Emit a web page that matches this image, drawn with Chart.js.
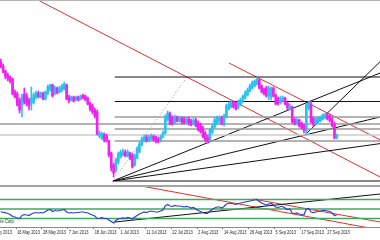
<!DOCTYPE html>
<html>
<head>
<meta charset="utf-8">
<script src="https://cdn.jsdelivr.net/npm/chart.js@4.4.0/dist/chart.umd.min.js"></script>
<style>
  html, body { margin: 0; padding: 0; background: #fff; }
  #wrap { width: 380px; height: 240px; overflow: hidden; border-top: 1px solid #b4b4b4; box-sizing: border-box; }
  canvas { display: block; }
  #sep { height: 2px; background: #a4a4a4; }
</style>
</head>
<body>
<div id="wrap">
  <canvas id="price" width="380" height="184"></canvas>
  <div id="sep"></div>
  <canvas id="rsi" width="380" height="53"></canvas>
</div>
<script>
// daily bars (price in chart units)
const open = [124,120,115,111,109,107,94,92,86,81, 92,90,86,83,84,89,93,89,93,87,
  93,97,101,93,98,94,96,97,101,89, 86,89,86,89,87,91,90,88,83,80,
  76,74,50,48,52,50,45,33,21,16, 24,29,31,34,30,33,31,21,28,34,
  41,45,49,45,47,50,49,47,45,49, 53,66,72,68,63,69,65,68,67,63,
  67,65,62,66,63,61,58,53,49,46, 54,59,62,65,68,61,69,77,79,84,
  82,78,81,85,88,91,95,98,100,102, 106,100,97,98,90,89,98,91,88,83,
  85,88,83,77,79,67,62,66,63,61, 55,78,82,68,62,64,65,67,68,71,
  70,67,62,49];
const high = [127,122,116,113,110,108,96,94,88,92, 98,93,88,99,93,95,95,94,94,95,
  101,102,102,100,99,100,102,104,102,91, 90,90,90,90,91,92,91,89,84,82,
  78,76,55,54,53,52,46,34,23,28, 34,36,37,36,36,34,33,32,39,44,
  49,51,51,51,52,51,50,49,51,55, 71,75,74,70,71,70,70,69,69,69,
  69,67,68,68,65,63,60,55,51,58, 62,68,70,70,70,72,82,84,86,85,
  84,86,88,91,95,98,102,105,106,109, 107,101,98,100,100,99,99,92,89,90,
  90,89,84,82,80,68,68,67,64,62, 82,85,85,69,68,69,70,72,73,73,
  72,69,64,52];
const low = [118,113,107,105,103,91,88,80,73,69, 82,80,76,76,82,87,88,88,86,86,
  91,95,89,91,92,93,94,96,86,83, 85,84,85,85,86,87,85,81,75,72,
  68,51,48,46,44,44,29,15,9,14, 22,28,30,29,29,26,18,20,27,33,
  40,44,44,44,46,45,43,43,44,48, 52,65,61,61,62,64,64,62,62,62,
  61,60,61,59,55,53,48,44,43,45, 52,58,61,63,61,60,68,76,78,78,
  76,77,80,83,87,90,94,97,99,101, 97,93,91,89,86,86,89,81,81,82,
  84,81,76,76,63,61,61,59,57,53, 51,76,63,60,61,63,64,66,67,66,
  64,59,47,47];
const close = [119,114,109,107,105,92,89,81,76,89, 84,82,80,88,91,93,89,93,87,94,
  99,101,90,98,93,98,100,102,87,85, 89,85,89,86,90,88,86,82,77,74,
  70,52,53,52,46,45,31,18,13,26, 32,34,35,30,34,28,19,30,37,42,
  47,49,45,49,50,46,45,44,49,53, 69,73,62,62,69,65,68,64,63,67,
  63,61,66,60,56,54,49,46,45,56, 60,66,68,68,62,70,80,82,84,79,
  77,84,86,90,93,96,100,103,105,107, 98,94,92,90,98,98,90,82,82,88,
  88,82,78,80,64,62,66,60,58,56, 81,83,64,61,67,68,69,71,71,67,
  65,60,48,51];

const rsi = [44.1,43.1,42.0,40.5,38.4,34.2,33.2,31.1,30.0,36.3,
  38.4,37.4,36.3,39.5,41.6,42.6,41.6,42.6,41.6,44.7,
  47.9,48.9,44.7,46.8,45.8,46.8,47.9,48.9,43.7,41.6,
  42.6,41.6,42.6,42.6,43.7,43.7,42.6,41.6,39.5,37.4,
  35.3,30.0,30.0,32.1,30.0,30.0,26.8,23.7,20.5,25.8,
  28.9,30.0,31.1,30.0,32.1,31.1,28.9,33.2,36.3,39.5,
  41.6,43.7,42.6,44.7,45.8,44.7,43.7,43.7,45.8,47.9,
  56.3,59.5,56.3,55.3,57.4,56.3,56.3,55.3,54.2,55.3,
  54.2,52.1,53.2,50.0,46.8,44.7,42.6,40.5,40.5,45.8,
  48.9,52.1,54.2,54.2,52.1,55.3,60.5,61.6,62.6,60.5,
  59.5,61.6,62.6,63.7,64.7,65.8,66.8,67.9,68.9,70.0,
  65.8,62.6,60.5,58.4,60.5,61.6,58.4,54.2,53.2,55.3,
  55.3,52.1,48.9,50.0,41.6,40.5,41.6,39.5,38.4,37.4,
  50.0,51.1,43.7,42.6,43.7,44.7,45.8,46.8,46.8,45.8,
  44.7,41.6,36.3,37.4];

const dateLabels = ["6 May 2013","16 May 2013","28 May 2013","7 Jun 2013","18 Jun 2013","1 Jul 2013",
  "11 Jul 2013","22 Jul 2013","2 Aug 2013","14 Aug 2013","26 Aug 2013","5 Sep 2013","17 Sep 2013","27 Sep 2013"];
const dateTickIdx = [-4.5,6.5,17.5,28.5,39.5,50.5,61.5,72.5,83.5,94.5,105.5,116.5,127.5,138.5];

// drawn objects: [bar1, price1, bar2, price2]
const fibStart = 48.5, chartEnd = 161.4;
const fibBlack = [109, 84.5, 5];
const fibGray = [69, 57, 45];
const flatLines = [62, 51];
const fanLines = [[47.7,5,161.4,113],[47.7,5,161.4,69],[47.7,5,161.4,42.4]];
const fibDiagonal = [47.7,5,79.2,109];
const redChannel = [[14,188.2,162,8.3],[97.1,123,162,45.5]];
const blackTrend = [[129.4,51,162,125.7]];

const rsiLevels = [70, 50, 30];
const rsiBlack = [[48.6,22.6,162,81.9]];
const rsiRed = [[57.96,100.1,162,5.3],[107.3,71,162,22.1]];

const X_MIN = -0.34, X_MAX = 161.36;
const BULL = '#2cc0ee', BEAR = '#ee22ee';

function seg(s) { return [{x: s[0], y: s[1]}, {x: s[2], y: s[3]}]; }
function lineDs(pts, color, width, dash) {
  return { type: 'line', data: pts, borderColor: color, borderWidth: width,
    borderDash: dash || [], pointRadius: 0, fill: false, tension: 0, order: 1 };
}

const idx = close.map((c, i) => i);
const candleColor = idx.map(i => close[i] >= open[i] ? BULL : BEAR);

const priceSets = [
  { type: 'bar', data: idx.map(i => ({x: i, y: [low[i], high[i]]})), backgroundColor: candleColor,
    barThickness: 1, grouped: false, order: 0 },
  { type: 'bar', data: idx.map(i => ({x: i, y: [open[i], close[i]]})), backgroundColor: candleColor,
    barThickness: 2, grouped: false, order: 0 }
];
flatLines.forEach((v, k) => priceSets.push(lineDs(seg([X_MIN - 1, v, chartEnd, v]), k ? '#cdcdcd' : '#9a9a9a', 1.5)));
fibGray.forEach(v => priceSets.push(lineDs(seg([fibStart, v, chartEnd, v]), '#9a9a9a', 1.5)));
fibBlack.forEach(v => priceSets.push(lineDs(seg([fibStart, v, chartEnd, v]), '#111', 1)));
fanLines.forEach(s => priceSets.push(lineDs(seg(s), '#111', 1)));
priceSets.push(lineDs(seg(fibDiagonal), '#999', 1, [1, 2]));
redChannel.forEach(s => priceSets.push(lineDs(seg(s), '#e2302e', 1)));
blackTrend.forEach(s => priceSets.push(lineDs(seg(s), '#111', 1)));

new Chart(document.getElementById('price'), {
  type: 'bar',
  data: { datasets: priceSets },
  options: {
    responsive: false, animation: false, events: [], devicePixelRatio: 1,
    layout: { padding: 0 },
    plugins: { legend: { display: false }, tooltip: { enabled: false } },
    scales: {
      x: { type: 'linear', min: X_MIN, max: X_MAX, offset: false, display: false },
      y: { type: 'linear', min: 1, max: 185, display: false }
    }
  }
});

const rsiSets = [
  lineDs(idx.map(i => ({x: i, y: rsi[i]})), '#2b3fd6', 1.2)
];
rsiSets[0].order = 0;
rsiLevels.forEach(v => rsiSets.push(lineDs(seg([X_MIN - 1, v, chartEnd, v]), '#3daa5c', 1.4)));
rsiBlack.forEach(s => rsiSets.push(lineDs(seg(s), '#111', 1)));
rsiRed.forEach(s => rsiSets.push(lineDs(seg(s), '#e2302e', 1)));

const bottomText = {
  id: 'bottomText',
  afterDraw(chart) {
    const ctx = chart.ctx, sc = chart.scales.x;
    ctx.save();
    ctx.fillStyle = '#222';
    ctx.font = '5.5px "Liberation Sans", Arial, sans-serif';
    ctx.textBaseline = 'alphabetic';
    ctx.textAlign = 'left';
    dateLabels.forEach((t, k) => {
      ctx.save();
      ctx.translate(sc.getPixelForValue(dateTickIdx[k]) + 1, chart.height - 6);
      ctx.scale(0.72, 1);
      ctx.fillText(t, 0, 0);
      ctx.restore();
    });
    ctx.textAlign = 'right';
    ctx.translate(15, chart.chartArea.bottom - 4);
    ctx.scale(0.75, 1);
    ctx.fillText('\u00a9 2001-2013 MetaQuotes Software Corp.', 0, 0);
    ctx.restore();
  }
};

new Chart(document.getElementById('rsi'), {
  type: 'line',
  data: { datasets: rsiSets },
  plugins: [bottomText],
  options: {
    responsive: false, animation: false, events: [], devicePixelRatio: 1,
    layout: { padding: 0 },
    plugins: { legend: { display: false }, tooltip: { enabled: false } },
    scales: {
      x: {
        type: 'linear', min: X_MIN, max: X_MAX, offset: false, position: 'bottom',
        ticks: { display: false },
        grid: { drawOnChartArea: false, drawTicks: true, tickLength: 2, color: '#777' },
        border: { display: true, color: '#8a8a8a' },
        afterBuildTicks: s => { s.ticks = dateTickIdx.map(v => ({value: v})); },
        afterFit: s => { s.height = 13; s.paddingLeft = 0; s.paddingRight = 0; }
      },
      y: { type: 'linear', min: 12.1, max: 96.3, display: false }
    }
  }
});
</script>
</body>
</html>
